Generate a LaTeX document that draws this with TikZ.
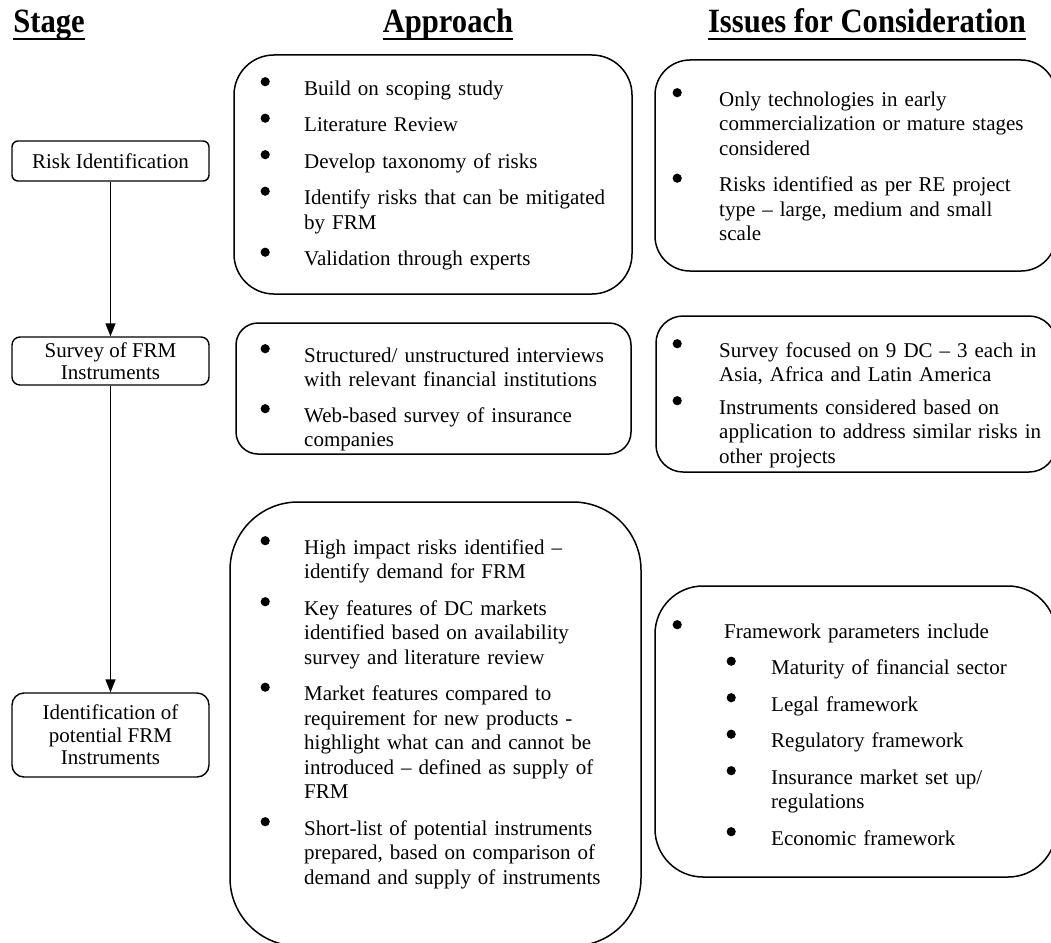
\documentclass[tikz,border=0pt]{standalone}
\usepackage{fontspec}
\setmainfont{Liberation Serif}
\usetikzlibrary{arrows.meta}
\newcommand\bdot{\tikz[baseline=0pt]{\useasboundingbox (0pt,0pt) rectangle (9pt,0pt);\fill[black] (4.5pt,13.5pt) circle (4.6pt);}}
\newcommand\bitem[2]{\hangindent=#1\hangafter=1\noindent\makebox[#1][l]{\bdot}\rule{0pt}{16pt}#2\par}
\newcommand\sitem[3]{\hangindent=#2\hangafter=1\noindent\makebox[#2][l]{\hspace{#1}\bdot}\rule{0pt}{16pt}#3\par}
\tikzset{
  hdr/.style={anchor=base, inner sep=0pt, font=\fontsize{34}{36}\selectfont\bfseries},
  stagebox/.style={draw, line width=1.4pt, rounded corners=#1, minimum width=197pt, align=center, inner sep=0pt, font=\fontsize{21}{22.5}\selectfont},
  bigbox/.style={draw, line width=1.5pt, rounded corners=#1, inner sep=0pt},
  txt/.style={anchor=north west, inner sep=0pt, text width=400pt, align=left, font=\fontsize{21}{24.5}\selectfont},
  flow/.style={line width=1.4pt, -{Triangle[length=13pt,width=10pt]}},
  uline/.style={line width=2.5pt}
}
\begin{document}
\begin{tikzpicture}[x=1pt,y=-1pt]
\useasboundingbox (0,0) rectangle (1051,942);
% headers
\node[hdr] (hs) at (49,33) {\scalebox{0.9}[1]{Stage}};
\node[hdr] (ha) at (448,33) {\scalebox{0.9}[1]{Approach}};
\node[hdr] (hi) at (867,33) {\scalebox{0.9}[1]{Issues for Consideration}};
\draw[uline] ([yshift=-6pt]hs.base west) -- ([yshift=-6pt]hs.base east);
\draw[uline] ([yshift=-6pt]ha.base west) -- ([yshift=-6pt]ha.base east);
\draw[uline] ([yshift=-6pt]hi.base west) -- ([yshift=-6pt]hi.base east);
% stage boxes
\node[stagebox=6pt, minimum height=40pt] (rid) at (110.5,161) {Risk Identification};
\node[stagebox=8pt, minimum height=48pt] (srv) at (110.5,361) {Survey of FRM\\Instruments};
\node[stagebox=12pt, minimum height=84pt] (idf) at (110.5,735) {Identification of\\potential FRM\\Instruments};
\draw[flow] (rid.south) -- (srv.north);
\draw[flow] (srv.south) -- (idf.north);
% approach boxes
\node[bigbox=40pt, minimum width=398pt, minimum height=239pt] (a1) at (433,174.5) {};
\node[bigbox=22pt, minimum width=395pt, minimum height=131pt] (a2) at (433.5,388.5) {};
\node[bigbox=68pt, minimum width=411pt, minimum height=444pt] (a3) at (435.5,724) {};
% issues boxes
\node[bigbox=35pt, minimum width=401pt, minimum height=211pt] (i1) at (855.5,165.5) {};
\node[bigbox=27pt, minimum width=400pt, minimum height=156pt] (i2) at (856,394) {};
\node[bigbox=48pt, minimum width=401pt, minimum height=291pt] (i3) at (855.5,731.5) {};
% approach texts
\node[txt] (t1) at (260.5,79) {\setlength{\parskip}{12pt}%
\bitem{43.5pt}{Build on scoping study}
\bitem{43.5pt}{Literature Review}
\bitem{43.5pt}{Develop taxonomy of risks}
\bitem{43.5pt}{Identify risks that can be mitigated\newline by FRM}
\bitem{43.5pt}{Validation through experts}};
\node[txt] (t2) at (260.5,346) {\setlength{\parskip}{11pt}%
\bitem{43.5pt}{Structured/ unstructured interviews\newline with relevant financial institutions}
\bitem{43.5pt}{Web-based survey of insurance\newline companies}};
\node[txt] (t3) at (260.5,538) {\setlength{\parskip}{12pt}%
\bitem{43.5pt}{High impact risks identified –\newline identify demand for FRM}
\bitem{43.5pt}{Key features of DC markets\newline identified based on availability\newline survey and literature review}
\bitem{43.5pt}{Market features compared to\newline requirement for new products -\newline highlight what can and cannot be\newline introduced – defined as supply of\newline FRM}
\bitem{43.5pt}{Short-list of potential instruments\newline prepared, based on comparison of\newline demand and supply of instruments}};
% issues texts
\node[txt] (u1) at (672.5,90) {\setlength{\parskip}{12pt}%
\bitem{46.5pt}{Only technologies in early\newline commercialization or mature stages\newline considered}
\bitem{46.5pt}{Risks identified as per RE project\newline type – large, medium and small\newline scale}};
\node[txt] (u2) at (672.5,341) {\setlength{\parskip}{8pt}%
\bitem{46.5pt}{Survey focused on 9 DC – 3 each in\newline Asia, Africa and Latin America}
\bitem{46.5pt}{Instruments considered based on\newline application to address similar risks in\newline other projects}};
\node[txt] (u3) at (672.5,622) {\setlength{\parskip}{12pt}%
\bitem{51.5pt}{Framework parameters include}
\sitem{54pt}{98.5pt}{Maturity of financial sector}
\sitem{54pt}{98.5pt}{Legal framework}
\sitem{54pt}{98.5pt}{Regulatory framework}
\sitem{54pt}{98.5pt}{Insurance market set up/\newline regulations}
\sitem{54pt}{98.5pt}{Economic framework}};
\end{tikzpicture}
\end{document}
